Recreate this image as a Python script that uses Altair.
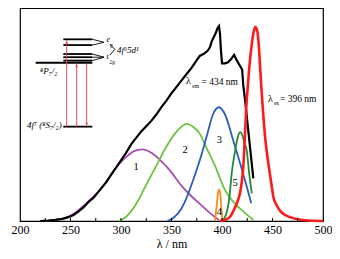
import altair as alt
import pandas as pd

# ---------------- spectra (wavelength nm, relative intensity) ----------------
wl_black = [220, 228, 235, 242, 248, 253, 258, 263, 268, 273, 279, 285, 290, 295, 300,
            305, 310, 315, 320, 325, 330, 335, 340, 345, 350, 355, 360, 365, 370, 375,
            378, 382, 386, 388, 390, 392, 394, 395.5, 397, 398, 399, 400, 403, 406, 409,
            412, 414, 417, 420, 421, 423, 425, 427, 429, 431]
int_black = [0, 0.002, 0.005, 0.01, 0.018, 0.028, 0.045, 0.065, 0.09, 0.11, 0.145, 0.18, 0.215, 0.25, 0.285,
             0.32, 0.36, 0.39, 0.42, 0.445, 0.47, 0.50, 0.535, 0.565, 0.60, 0.63, 0.66, 0.69, 0.72, 0.755,
             0.775, 0.785, 0.80, 0.815, 0.845, 0.865, 0.885, 0.905, 0.915, 0.88, 0.80, 0.74, 0.74, 0.745, 0.76,
             0.78, 0.76, 0.735, 0.71, 0.64, 0.56, 0.47, 0.38, 0.29, 0.20]

wl_red = [398, 403, 408, 411, 414, 416, 418, 420, 421, 422.5, 424, 425.5, 427, 429, 431, 433,
          435, 436.5, 438, 439.5, 441, 443, 445, 447, 449, 451, 454, 458, 463, 468, 475, 485, 500]
int_red = [0, 0.005, 0.02, 0.045, 0.075, 0.1, 0.135, 0.2, 0.25, 0.38, 0.53, 0.63, 0.72, 0.81, 0.88, 0.912,
           0.89, 0.82, 0.7, 0.59, 0.49, 0.38, 0.3, 0.235, 0.17, 0.11, 0.075, 0.045, 0.027, 0.017, 0.008, 0.002, 0]

wl_1 = [225, 235, 245, 255, 265, 275, 285, 295, 305, 313, 321, 330, 340, 348, 360, 370, 380, 390, 397]
int_1 = [0, 0.005, 0.015, 0.04, 0.08, 0.125, 0.18, 0.25, 0.30, 0.328, 0.336, 0.32, 0.28, 0.24, 0.165, 0.115, 0.072, 0.03, 0.004]

wl_2 = [298, 305, 315, 325, 335, 345, 355, 365, 372, 378, 385, 393, 403, 412, 421, 431]
int_2 = [0, 0.02, 0.08, 0.17, 0.26, 0.35, 0.42, 0.456, 0.44, 0.41, 0.34, 0.26, 0.145, 0.085, 0.045, 0.005]

wl_3 = [346, 352, 360, 365, 372, 378, 385, 391, 397, 403, 411, 418, 424, 429]
int_3 = [0, 0.015, 0.06, 0.11, 0.2, 0.285, 0.4, 0.5, 0.534, 0.5, 0.38, 0.27, 0.17, 0.083]

wl_4 = [393, 394.5, 396, 397.3, 398.5, 399.5, 400.5]
int_4 = [0, 0.06, 0.13, 0.148, 0.12, 0.05, 0]

wl_5 = [400, 404, 407, 410, 413, 416, 418, 420, 422, 424.5, 427, 429.5]
int_5 = [0, 0.03, 0.1, 0.24, 0.33, 0.40, 0.417, 0.405, 0.37, 0.33, 0.22, 0.13]

series = [
    ("1", wl_1, int_1, "#a64fb3", 1.8, "monotone"),
    ("2", wl_2, int_2, "#6cc440", 1.8, "monotone"),
    ("3", wl_3, int_3, "#2c5dbf", 1.8, "monotone"),
    ("5", wl_5, int_5, "#26883a", 1.8, "monotone"),
    ("4", wl_4, int_4, "#ff8c1a", 1.8, "monotone"),
    ("ex", wl_black, int_black, "#000000", 2.2, "linear"),
    ("em", wl_red, int_red, "#ff1a1a", 2.6, "monotone"),
]

x_ticks = [200, 250, 300, 350, 400, 450, 500]
minor_ticks = [225, 250, 275, 300, 325, 350, 375, 400, 425, 450, 475]

# ---------------- annotations ----------------
num_text = ["1", "2", "3", "4", "5"]
num_x = [315, 363.5, 397.5, 397.5, 413]
num_y = [0.255, 0.333, 0.38, 0.043, 0.177]

lam_text = ["λ", "em", "= 434 nm", "λ", "ex", "= 396 nm"]
lam_x = [364.4, 370.6, 379.7, 445.5, 451.4, 457.4]
lam_y = [0.655, 0.635, 0.654, 0.573, 0.554, 0.571]
lam_fs = [10, 5.5, 9.5, 10, 5.5, 9.5]

dia_text = ["e", "g", "t", "2g", "4f⁶5d¹", "⁸P₇/₂", "4f⁷ (⁸S₇/₂)"]
dia_x = [285.6, 289.0, 285.6, 288.6, 296.0, 219.8, 206.9]
dia_y = [0.85, 0.828, 0.77, 0.748, 0.803, 0.704, 0.451]
dia_fs = [8, 5.5, 8, 5.5, 9, 9, 9]

# energy levels (thick)
lvl_x1 = [242.9, 242.9, 242.9, 242.9, 242.9, 215.5, 242.9]
lvl_x2 = [271.6, 271.6, 271.6, 271.6, 271.6, 271.6, 271.6]
lvl_y = [0.853, 0.826, 0.784, 0.769, 0.753, 0.743, 0.443]

# connector lines (thin)
con_x1 = [271.6, 271.6, 271.6, 271.6, 271.6, 289.1, 289.1]
con_x2 = [283.2, 283.2, 283.2, 283.2, 283.2, 293.8, 293.8]
con_y1 = [0.853, 0.826, 0.784, 0.769, 0.753, 0.831, 0.779]
con_y2 = [0.839, 0.839, 0.769, 0.769, 0.769, 0.806, 0.806]

# transitions (red)
tr_x = [246.2, 256.1, 266.0]
tr_y1 = [0.443, 0.443, 0.447]
tr_y2 = [0.85, 0.74, 0.74]
head_x = [246.2, 256.1, 266.0]
head_y = [0.838, 0.728, 0.455]
head_shape = ["triangle-up", "triangle-up", "triangle-down"]

FONT = "'Liberation Serif', 'Times New Roman', 'DejaVu Serif', serif"
xscale = alt.Scale(domain=[200, 500], nice=False, zero=False)
yscale = alt.Scale(domain=[0, 1], nice=False, zero=False)

layers = []
first = True
for name, wl, iv, col, w, interp in series:
    d = pd.DataFrame({"wl": wl, "val": iv})
    if first:
        xenc = alt.X("wl:Q", scale=xscale,
                     axis=alt.Axis(values=x_ticks, format="d", tickSize=0, grid=False,
                                   labelFont=FONT, labelFontSize=12, labelColor="black",
                                   labelPadding=3, domainColor="black", domainWidth=1.2,
                                   title="λ / nm", titleFont=FONT, titleFontSize=12,
                                   titleFontWeight="normal", titleColor="black", titlePadding=3,
                                   labelFlush=False))
        first = False
    else:
        xenc = alt.X("wl:Q", scale=xscale)
    layers.append(
        alt.Chart(d).mark_line(color=col, strokeWidth=w, interpolate=interp)
        .encode(x=xenc, y=alt.Y("val:Q", scale=yscale, axis=None))
    )

tick_df = pd.DataFrame({"t": minor_ticks})
layers.append(alt.Chart(tick_df).mark_rule(color="black", strokeWidth=1)
              .encode(x=alt.X("t:Q", scale=xscale), y=alt.value(213), y2=alt.value(210)))

num_df = pd.DataFrame({"x": num_x, "y": num_y, "t": num_text})
layers.append(alt.Chart(num_df).mark_text(font=FONT, fontSize=10.5, color="black", align="center", baseline="middle")
              .encode(x=alt.X("x:Q", scale=xscale), y=alt.Y("y:Q", scale=yscale), text="t:N"))

lam_df = pd.DataFrame({"x": lam_x, "y": lam_y, "t": lam_text, "fs": lam_fs})
layers.append(alt.Chart(lam_df).mark_text(font=FONT, color="black", align="left", baseline="middle")
              .encode(x=alt.X("x:Q", scale=xscale), y=alt.Y("y:Q", scale=yscale), text="t:N",
                      size=alt.Size("fs:Q", scale=None, legend=None)))

lvl_df = pd.DataFrame({"x1": lvl_x1, "x2": lvl_x2, "y": lvl_y})
layers.append(alt.Chart(lvl_df).mark_rule(color="black", strokeWidth=1.8)
              .encode(x=alt.X("x1:Q", scale=xscale), x2="x2:Q", y=alt.Y("y:Q", scale=yscale)))

con_df = pd.DataFrame({"x1": con_x1, "x2": con_x2, "y1": con_y1, "y2": con_y2})
layers.append(alt.Chart(con_df).mark_rule(color="black", strokeWidth=0.9)
              .encode(x=alt.X("x1:Q", scale=xscale), x2="x2:Q", y=alt.Y("y1:Q", scale=yscale), y2="y2:Q"))

tr_df = pd.DataFrame({"x": tr_x, "y1": tr_y1, "y2": tr_y2})
layers.append(alt.Chart(tr_df).mark_rule(color="#e8505a", strokeWidth=1)
              .encode(x=alt.X("x:Q", scale=xscale), y=alt.Y("y1:Q", scale=yscale), y2="y2:Q"))

head_df = pd.DataFrame({"x": head_x, "y": head_y, "s": head_shape})
layers.append(alt.Chart(head_df).mark_point(color="#e8505a", filled=True, size=10, opacity=1)
              .encode(x=alt.X("x:Q", scale=xscale), y=alt.Y("y:Q", scale=yscale),
                      shape=alt.Shape("s:N", scale=None, legend=None)))

dia_df = pd.DataFrame({"x": dia_x, "y": dia_y, "t": dia_text, "fs": dia_fs})
layers.append(alt.Chart(dia_df).mark_text(font=FONT, fontStyle="italic", color="black", align="left", baseline="middle")
              .encode(x=alt.X("x:Q", scale=xscale), y=alt.Y("y:Q", scale=yscale), text="t:N",
                      size=alt.Size("fs:Q", scale=None, legend=None)))

chart = alt.layer(*layers).properties(
    width=303, height=213,
    autosize=alt.AutoSizeParams(type="none"),
    padding={"left": 12, "top": 0, "right": 9, "bottom": 30},
    background="white",
).configure_view(stroke="black", strokeWidth=1.2)

chart.save("out.html", embed_options={"renderer": "svg", "actions": False})
